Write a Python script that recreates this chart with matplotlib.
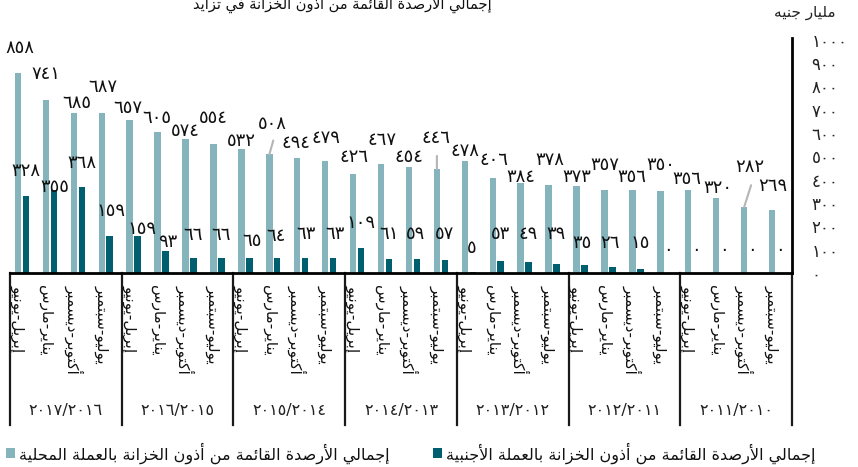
import matplotlib
matplotlib.use("Agg")
import matplotlib.pyplot as plt
from matplotlib.patches import Rectangle
from matplotlib.transforms import blended_transform_factory

plt.rcParams['font.family'] = ['DejaVu Sans']

# ---------------- data ----------------
fiscal_years = ["٢٠١٧/٢٠١٦", "٢٠١٦/٢٠١٥", "٢٠١٥/٢٠١٤", "٢٠١٤/٢٠١٣",
                "٢٠١٣/٢٠١٢", "٢٠١٢/٢٠١١", "٢٠١١/٢٠١٠"]
quarters = ["إبريل-يونيو", "يناير-مارس", "أكتوبر-ديسمبر", "يوليو-سبتمبر"]
local_ccy = [858, 741, 685, 687, 657, 605, 574, 554, 532, 508, 494, 479, 426, 467,
             454, 446, 478, 406, 384, 378, 373, 357, 356, 350, 356, 320, 282, 269]
foreign_ccy = [328, 355, 368, 159, 159, 93, 66, 66, 65, 64, 63, 63, 109, 61,
               59, 57, 5, 53, 49, 39, 35, 26, 15, 0, 0, 0, 0, 0]
y_ticks = [0, 100, 200, 300, 400, 500, 600, 700, 800, 900, 1000]
title = "إجمالي الأرصدة القائمة من أذون الخزانة في تزايد"
unit_label = "مليار جنيه"
legend_local = "إجمالي الأرصدة القائمة من أذون الخزانة بالعملة المحلية"
legend_foreign = "إجمالي الأرصدة القائمة من أذون الخزانة بالعملة الأجنبية"

# label offsets (pixels: dx, dy above bar top)
local_lab_off = [(2, 25), (0, 26), (3, 10), (1, 26), (-2, 12), (-1, 14), (0, 8), (0, 26),
                 (0, 8), (3, 30), (-1, 15), (1, 23), (1, 17), (1, 24), (0, 10), (-1, 31),
                 (0, 10), (1, 18), (0, 6), (1, 25), (0, 9), (0, 25), (-1, 13), (0, 26),
                 (-1, 11), (2, 10), (6, 40), (1, 24)]
foreign_lab_off = [(0, 25), (1, 3), (0, 24), (1, 25), (4, 7), (2, 9), (0, 23), (0, 23),
                   (3, 17), (-1, 22), (1, 24), (2, 24), (0, 25), (0, 25), (-1, 25), (0, 26),
                   (-1, 24), (0, 27), (-1, 28), (-1, 30), (-2, 22), (-2, 24), (0, 26),
                   (0, 23), (0, 23), (0, 23), (0, 23), (0, 23)]
leaders = {9: (4, 14), 15: (0, 13), 26: (7, 22)}

# ---------------- Arabic shaping helpers ----------------
DUAL = {0x0626: 0xFE89, 0x0628: 0xFE8F, 0x062A: 0xFE95, 0x062B: 0xFE99, 0x062C: 0xFE9D,
        0x062D: 0xFEA1, 0x062E: 0xFEA5, 0x0633: 0xFEB1, 0x0634: 0xFEB5, 0x0635: 0xFEB9,
        0x0636: 0xFEBD, 0x0637: 0xFEC1, 0x0638: 0xFEC5, 0x0639: 0xFEC9, 0x063A: 0xFECD,
        0x0641: 0xFED1, 0x0642: 0xFED5, 0x0643: 0xFED9, 0x0644: 0xFEDD, 0x0645: 0xFEE1,
        0x0646: 0xFEE5, 0x0647: 0xFEE9, 0x064A: 0xFEF1}
RIGHT = {0x0622: 0xFE81, 0x0623: 0xFE83, 0x0624: 0xFE85, 0x0625: 0xFE87, 0x0627: 0xFE8D,
         0x0629: 0xFE93, 0x062F: 0xFEA9, 0x0630: 0xFEAB, 0x0631: 0xFEAD, 0x0632: 0xFEAF,
         0x0648: 0xFEED, 0x0649: 0xFEEF}
LAMALEF = {'\u0622': 0xFEF5, '\u0623': 0xFEF7, '\u0625': 0xFEF9, '\u0627': 0xFEFB}


def shape(s):
    tokens = []
    i = 0
    while i < len(s):
        c = s[i]
        if c == '\u0644' and i + 1 < len(s) and s[i + 1] in LAMALEF:
            tokens.append(('LA', s[i + 1]))
            i += 2
        else:
            tokens.append(('C', c))
            i += 1
    res = []
    for k, (t, c) in enumerate(tokens):
        prev = tokens[k - 1] if k > 0 else None
        nxt = tokens[k + 1] if k + 1 < len(tokens) else None
        prev_j = prev is not None and prev[0] == 'C' and ord(prev[1]) in DUAL
        if t == 'LA':
            b = LAMALEF[c]
            res.append(chr(b + 1 if prev_j else b))
            continue
        o = ord(c)
        next_j = nxt is not None and (nxt[0] == 'LA' or ord(nxt[1]) in DUAL or ord(nxt[1]) in RIGHT)
        if o in DUAL:
            b = DUAL[o]
            if prev_j and next_j:
                f = b + 3
            elif prev_j:
                f = b + 1
            elif next_j:
                f = b + 2
            else:
                f = b
            res.append(chr(f))
        elif o in RIGHT:
            b = RIGHT[o]
            res.append(chr(b + 1 if prev_j else b))
        elif o == 0x0621:
            res.append(chr(0xFE80))
        else:
            res.append(c)
    return ''.join(res)[::-1]


def ar_num(n):
    return ''.join(chr(0x0660 + int(d)) for d in str(n))


# ---------------- figure ----------------
W, H = 858, 467
fig = plt.figure(figsize=(W / 100, H / 100), dpi=100)
ax = fig.add_axes([10 / W, 194 / H, 782 / W, 235 / H])

n = len(local_ccy)
xs = list(range(n))
light_c = '#86b4bd'
dark_c = '#005f6e'
bw = 0.23
x_light = [x - 0.215 for x in xs]
x_dark = [x + 0.07 for x in xs]

ax.bar(x_light, local_ccy, width=bw, color=light_c, zorder=2)
ax.bar(x_dark, foreign_ccy, width=bw, color=dark_c, zorder=2)

ax.set_xlim(-0.5, n - 0.5)
ax.set_ylim(0, 1007)

for s in ['top', 'left']:
    ax.spines[s].set_visible(False)
ax.spines['bottom'].set_linewidth(2)
ax.spines['right'].set_linewidth(2)
ax.set_xticks([])
ax.yaxis.tick_right()
ax.set_yticks(y_ticks)
ax.set_yticklabels([ar_num(v) for v in y_ticks], fontsize=12, color='#222222')
ax.tick_params(axis='y', length=0, pad=14)

# value labels
for i in xs:
    dx, dy = local_lab_off[i]
    ax.annotate(ar_num(local_ccy[i]), xy=(x_light[i], local_ccy[i]), xytext=(dx, dy),
                textcoords='offset pixels', ha='center', va='center', fontsize=13,
                color='#111111', zorder=3)
    dx, dy = foreign_lab_off[i]
    ax.annotate(ar_num(foreign_ccy[i]), xy=(x_dark[i], foreign_ccy[i]), xytext=(dx, dy),
                textcoords='offset pixels', ha='center', va='center', fontsize=13,
                color='#111111', zorder=3)
for i, (dx, dy) in leaders.items():
    ax.annotate('', xy=(x_light[i], local_ccy[i]), xytext=(dx, dy), textcoords='offset pixels',
                arrowprops=dict(arrowstyle='-', color='#b5b5b5', lw=1.5, shrinkA=0, shrinkB=0))

# category axis below
trans = blended_transform_factory(ax.transData, ax.transAxes)
bottom_y = -(425 - 273) / 235
for g in range(len(fiscal_years) + 1):
    xg = g * 4 - 0.5
    ax.plot([xg, xg], [0, bottom_y], transform=trans, color='#1a1a1a', lw=1.6, clip_on=False)
for g, fy in enumerate(fiscal_years):
    ax.text(g * 4 + 1.5, -(410 - 273) / 235, fy, transform=trans, ha='center', va='center',
            fontsize=11.5, color='#222222')
    for q, qn in enumerate(quarters):
        ax.text(x_light[g * 4 + q], -(285 - 273) / 235, shape(qn), transform=trans,
                rotation=270, ha='center', va='top', fontsize=11, color='#111111')

# title and unit
fig.text(342 / W, 1 - 3 / H, shape(title), ha='center', va='center', fontsize=10.5,
         color='#111111')
fig.text(805 / W, 1 - 13 / H, shape(unit_label), ha='center', va='center', fontsize=11,
         color='#222222')

# legend
for (x0, col, txt) in [(6, light_c, legend_local), (433, dark_c, legend_foreign)]:
    fig.patches.append(Rectangle((x0 / W, 1 - 458 / H), 9 / W, 10 / H, transform=fig.transFigure,
                                 facecolor=col, edgecolor='none'))
    fig.text((x0 + 13) / W, 1 - 453 / H, shape(txt), ha='left', va='center', fontsize=11.5,
             color='#111111')

fig.savefig('out.png', dpi=100)
